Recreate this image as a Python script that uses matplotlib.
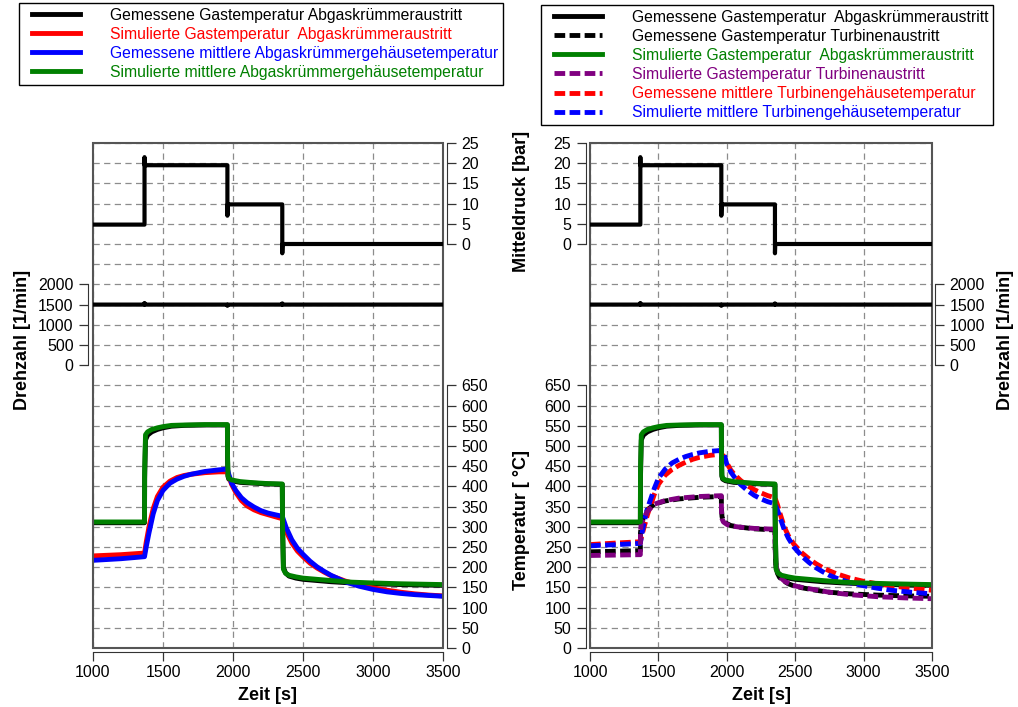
import matplotlib
matplotlib.use("Agg")
import matplotlib.pyplot as plt
from matplotlib.patches import Rectangle
from matplotlib.lines import Line2D
from matplotlib.legend_handler import HandlerLine2D

plt.rcParams['font.family'] = ['Liberation Sans', 'DejaVu Sans']
plt.rcParams['font.size'] = 11.5

# ---------------- measured load signals ----------------
t_load = [1000, 1368, 1368, 1369, 1960, 1960, 1962, 2352, 2352, 2354, 3500]
mean_pressure = [4.8, 4.8, 21.5, 19.5, 19.5, 7.0, 9.8, 9.8, -2.3, 0.0, 0.0]

t_speed = [1000, 1366, 1368, 1370, 1958, 1960, 1962, 2350, 2352, 2354, 3500]
engine_speed = [1500, 1500, 1540, 1500, 1500, 1470, 1500, 1500, 1530, 1500, 1500]

# ---------------- gas temperature at exhaust manifold outlet ----------------
t_gas = [1000, 1368, 1369, 1375, 1390, 1420, 1460, 1500, 1560, 1650, 1800, 1960,
         1961, 1964, 1970, 1990, 2050, 2150, 2250, 2352, 2354, 2360, 2375, 2400,
         2450, 2500, 2600, 2700, 2850, 3000, 3200, 3500]
gas_manifold_meas = [310, 310, 420, 515, 527, 535, 541, 545, 549, 551, 552, 552,
                     470, 425, 418, 414, 410, 408, 406, 405, 300, 200, 186, 178,
                     173, 170, 167, 164, 161, 159, 157, 155]
gas_manifold_sim = [312, 312, 440, 528, 535, 541, 545, 548, 551, 552, 553, 553,
                    480, 428, 420, 416, 412, 409, 407, 406, 310, 195, 185, 180,
                    176, 173, 170, 167, 163, 161, 159, 157]

# ---------------- manifold housing temperatures ----------------
t_mh = [1000, 1200, 1368, 1380, 1400, 1430, 1460, 1500, 1550, 1600, 1650, 1700,
        1800, 1900, 1960, 1970, 1990, 2020, 2060, 2100, 2150, 2200, 2250, 2300,
        2352, 2380, 2420, 2460, 2500, 2550, 2600, 2650, 2700, 2800, 2900, 3000,
        3100, 3200, 3300, 3400, 3500]
mh_red = [228, 231, 235, 262, 300, 345, 375, 398, 413, 422, 427, 430,
          434, 436, 436, 425, 405, 385, 365, 352, 342, 335, 330, 325,
          320, 288, 260, 240, 226, 210, 198, 188, 179, 166, 156, 149,
          143, 138, 134, 131, 129]
mh_blue = [217, 221, 226, 250, 285, 332, 365, 390, 408, 418, 425, 430,
           437, 441, 443, 430, 408, 390, 372, 360, 349, 340, 334, 330,
           326, 298, 268, 247, 232, 215, 201, 190, 180, 164, 153, 145,
           139, 135, 132, 130, 128]

# ---------------- gas temperature at turbine outlet ----------------
t_turb = [1000, 1368, 1369, 1375, 1390, 1420, 1470, 1550, 1650, 1800, 1960,
          1961, 1965, 1975, 2000, 2030, 2100, 2200, 2352, 2354, 2360, 2370,
          2385, 2400, 2420, 2450, 2480, 2550, 2650, 2750, 2900, 3100, 3300, 3500]
turb_gas_meas = [238, 241, 285, 305, 322, 342, 356, 364, 369, 373, 375,
                 345, 325, 315, 308, 303, 299, 295, 292, 240, 200, 185,
                 175, 170, 165, 159, 155, 149, 143, 138, 134, 131, 129, 128]
turb_gas_sim = [229, 231, 290, 308, 320, 338, 356, 365, 371, 375, 377,
                340, 320, 312, 306, 302, 299, 296, 294, 240, 205, 190,
                178, 172, 166, 160, 155, 150, 144, 138, 132, 127, 124, 122]

# ---------------- turbine housing temperatures ----------------
t_th = [1000, 1200, 1368, 1380, 1400, 1420, 1440, 1470, 1500, 1550, 1600, 1650,
        1700, 1750, 1800, 1880, 1960, 1980, 2000, 2030, 2060, 2100, 2150, 2200,
        2250, 2300, 2352, 2370, 2390, 2420, 2450, 2490, 2550, 2600, 2650, 2700,
        2750, 2800, 2900, 3000, 3100, 3200, 3350, 3500]
th_meas = [256, 260, 263, 280, 305, 330, 350, 380, 405, 428, 442, 452,
           460, 467, 472, 477, 480, 474, 458, 440, 428, 415, 402, 392,
           384, 377, 372, 355, 332, 300, 278, 257, 235, 221, 209, 199,
           191, 184, 173, 165, 159, 154, 148, 143]
th_sim = [253, 256, 259, 285, 318, 345, 365, 395, 420, 443, 458, 467,
          474, 479, 483, 487, 489, 480, 455, 435, 421, 405, 390, 378,
          369, 362, 357, 342, 322, 293, 272, 250, 227, 212, 199, 189,
          180, 173, 162, 154, 148, 143, 138, 134]

# ---------------- axis scales ----------------
x_ticks = [1000, 1500, 2000, 2500, 3000, 3500]
temp_ticks = list(range(0, 651, 50))
temp_grid_extra = list(range(700, 1251, 50))
pressure_ticks = [0, 5, 10, 15, 20, 25]
speed_ticks = [0, 500, 1000, 1500, 2000]

RED, BLUE, GREEN, PURPLE = '#ff0000', '#0000ff', '#008000', '#800080'
LW_T = 3.5
DASH = (0, (2.2, 0.9))
SPINE_C = '#333333'

fig = plt.figure(figsize=(10.18, 7.07), dpi=100)


def build_panel(rect, temp_side, speed_side):
    ax = fig.add_axes(rect)
    ax_p = ax.twinx()
    ax_n = ax.twinx()
    for a in (ax, ax_p, ax_n):
        for s in a.spines.values():
            s.set_visible(False)
        a.tick_params(direction='out', length=6.5, width=0.9, pad=4,
                      labelsize=11.5, color=SPINE_C)
    ax.set_xlim(1000, 3500)
    ax.set_ylim(0, 1250)
    ax_p.set_ylim(-100, 25)
    ax_n.set_ylim(-7000, 5500)

    # temperature scale
    ax.yaxis.set_ticks_position(temp_side)
    ax.yaxis.set_label_position(temp_side)
    sp = ax.spines[temp_side]
    sp.set_visible(True)
    sp.set_position(('outward', 3))
    sp.set_bounds(0, 650)
    sp.set_color(SPINE_C)
    ax.set_yticks(temp_ticks)
    ax.set_yticks(temp_grid_extra, minor=True)
    ax.tick_params(axis='y', which='minor', length=0)

    # time axis
    sb = ax.spines['bottom']
    sb.set_visible(True)
    sb.set_position(('outward', 3))
    sb.set_color(SPINE_C)
    ax.set_xticks(x_ticks)
    ax.tick_params(axis='x', pad=3)
    ax.set_xlabel('Zeit [s]', fontsize=13, fontweight='bold', labelpad=5)

    ax.grid(True, which='both', linestyle=(0, (5, 3.5)), color='#8c8c8c', lw=0.9)
    ax.set_axisbelow(True)
    ax.add_patch(Rectangle((0, 0), 1, 1, transform=ax.transAxes, fill=False,
                           ec='#555555', lw=1.5, clip_on=False, zorder=5))

    # mean pressure scale
    ax_p.yaxis.set_ticks_position(temp_side)
    ax_p.yaxis.set_label_position(temp_side)
    sp = ax_p.spines[temp_side]
    sp.set_visible(True)
    sp.set_position(('outward', 3))
    sp.set_bounds(0, 25)
    sp.set_color(SPINE_C)
    ax_p.set_yticks(pressure_ticks)

    # engine speed scale
    ax_n.yaxis.set_ticks_position(speed_side)
    ax_n.yaxis.set_label_position(speed_side)
    sp = ax_n.spines[speed_side]
    sp.set_visible(True)
    sp.set_position(('outward', 3.5 if speed_side == 'left' else 2.2))
    sp.set_bounds(0, 2000)
    sp.set_color(SPINE_C)
    ax_n.set_yticks(speed_ticks)

    ax_p.plot(t_load, mean_pressure, color='black', lw=3)
    ax_n.plot(t_speed, engine_speed, color='black', lw=3)
    return ax, ax_p, ax_n


# ---------------- left panel: exhaust manifold ----------------
axL, axL_p, axL_n = build_panel([93 / 1018, 59 / 707, 350 / 1018, 505 / 707],
                                'right', 'left')
l1, = axL.plot(t_gas, gas_manifold_meas, color='black', lw=LW_T,
               label='Gemessene Gastemperatur Abgaskrümmeraustritt')
l2, = axL.plot(t_mh, mh_red, color=RED, lw=LW_T,
               label='Simulierte Gastemperatur  Abgaskrümmeraustritt')
l3, = axL.plot(t_mh, mh_blue, color=BLUE, lw=LW_T,
               label='Gemessene mittlere Abgaskrümmergehäusetemperatur')
l4, = axL.plot(t_gas, gas_manifold_sim, color=GREEN, lw=LW_T,
               label='Simulierte mittlere Abgaskrümmergehäusetemperatur')
axL_n.set_ylabel('Drehzahl [1/min]', fontsize=13, fontweight='bold')
axL_n.yaxis.set_label_coords(-0.177, 0.61)

# ---------------- right panel: turbine ----------------
axR, axR_p, axR_n = build_panel([590 / 1018, 59 / 707, 342 / 1018, 505 / 707],
                                'left', 'right')
r1, = axR.plot(t_gas, gas_manifold_meas, color='black', lw=LW_T,
               label='Gemessene Gastemperatur  Abgaskrümmeraustritt')
r2, = axR.plot(t_turb, turb_gas_meas, color='black', lw=LW_T, ls=DASH,
               label='Gemessene Gastemperatur Turbinenaustritt')
r5, = axR.plot(t_th, th_meas, color=RED, lw=LW_T, ls=DASH,
               label='Gemessene mittlere Turbinengehäusetemperatur')
r6, = axR.plot(t_th, th_sim, color=BLUE, lw=LW_T, ls=DASH,
               label='Simulierte mittlere Turbinengehäusetemperatur')
r4, = axR.plot(t_turb, turb_gas_sim, color=PURPLE, lw=LW_T, ls=DASH,
               label='Simulierte Gastemperatur Turbinenaustritt')
r3, = axR.plot(t_gas, gas_manifold_sim, color=GREEN, lw=LW_T,
               label='Simulierte Gastemperatur  Abgaskrümmeraustritt')
axR.set_ylabel('Temperatur [ °C]', fontsize=13, fontweight='bold')
axR.yaxis.set_label_coords(-0.175, 0.253)
axR_p.set_ylabel('Mitteldruck [bar]', fontsize=13, fontweight='bold')
axR_p.yaxis.set_label_coords(-0.175, 0.885)
axR_n.set_ylabel('Drehzahl [1/min]', fontsize=13, fontweight='bold')
axR_n.yaxis.set_label_coords(1.19, 0.61)

# ---------------- legends ----------------
leg_kw = dict(loc='upper left', bbox_transform=fig.transFigure, frameon=True,
              fancybox=False, edgecolor='black', framealpha=1, borderaxespad=0,
              handlelength=3.6, handletextpad=1.9, labelspacing=0.26,
              borderpad=0.3, labelcolor='linecolor', fontsize=11.3,
              handler_map={Line2D: HandlerLine2D(xpad=0.55)})
legL = fig.legend(handles=[l1, l2, l3, l4],
                  bbox_to_anchor=(19 / 1018, 1 - 3 / 707), **leg_kw)
legR = fig.legend(handles=[r1, r2, r3, r4, r5, r6],
                  bbox_to_anchor=(541 / 1018, 1 - 5 / 707), **leg_kw)
for lg in (legL, legR):
    lg.get_frame().set_linewidth(1.0)

fig.savefig('out.png', dpi=100)
